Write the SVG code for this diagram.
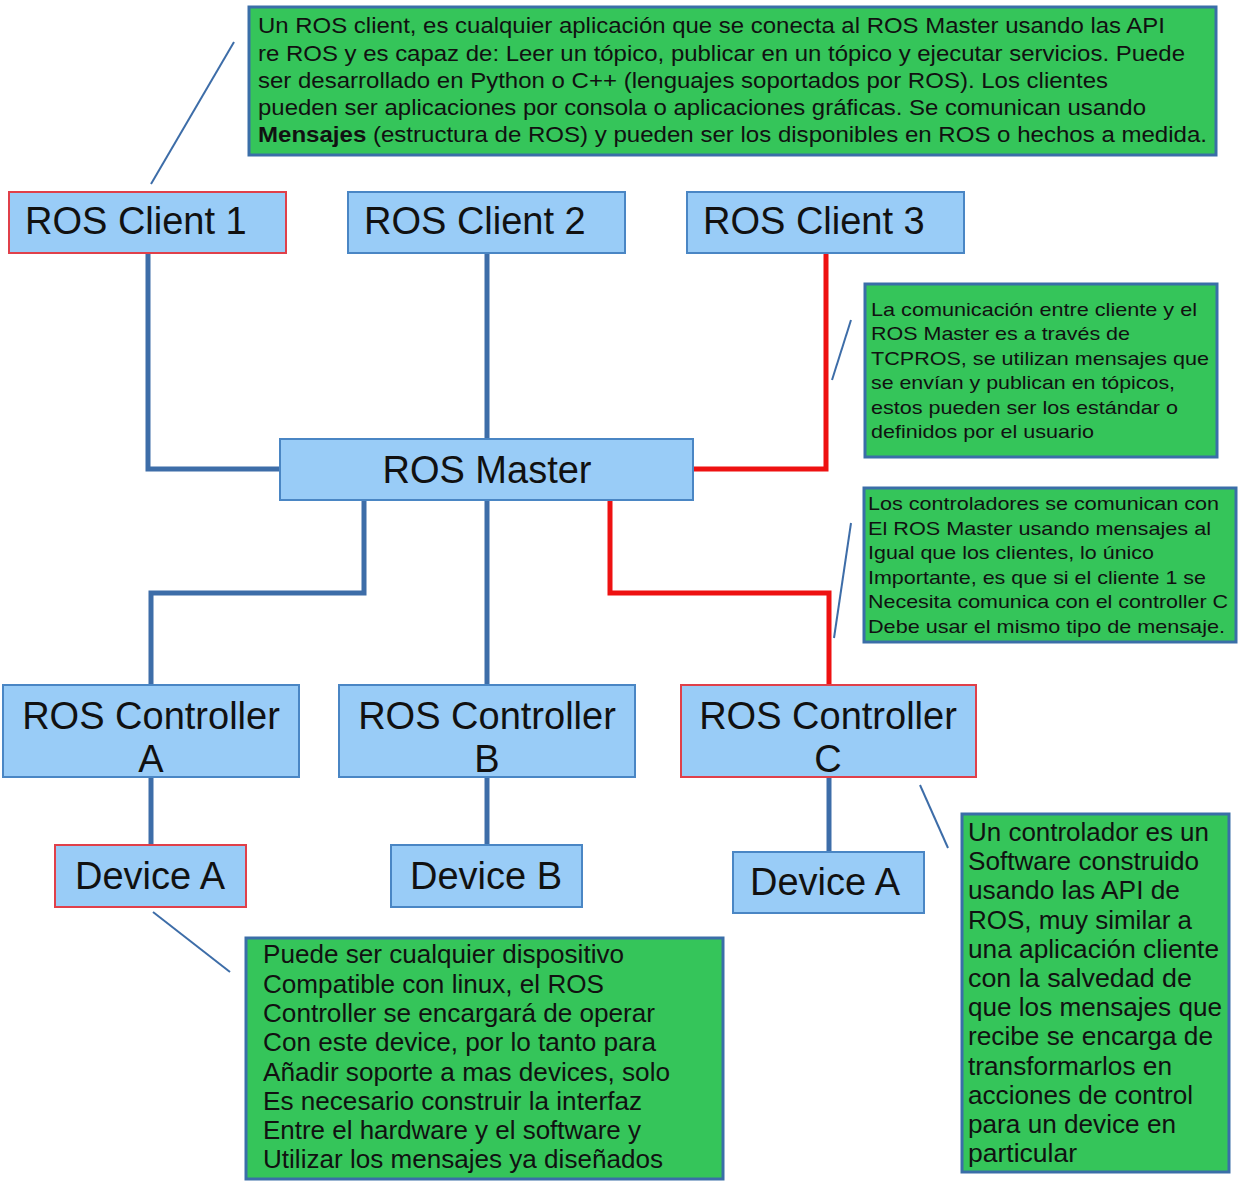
<svg xmlns="http://www.w3.org/2000/svg" width="1241" height="1184" viewBox="0 0 1241 1184">
<style>
.node{fill:#99ccf7;stroke:#4a86c4;stroke-width:2}
.red{stroke:#e0404a}
.note{fill:#35c55a;stroke:#3a6ea8;stroke-width:3}
.lbl{font-family:"Liberation Sans",Arial,sans-serif;font-size:38px;fill:#111}
.t1{font-family:"Liberation Sans",Arial,sans-serif;font-size:22px;fill:#111}
.t2{font-family:"Liberation Sans",Arial,sans-serif;font-size:19px;fill:#111}
.t3{font-family:"Liberation Sans",Arial,sans-serif;font-size:26px;fill:#111}
.cb{fill:none;stroke:#3d6da8;stroke-width:5}
.cr{fill:none;stroke:#ee1111;stroke-width:5}
.call{fill:none;stroke:#3d6da8;stroke-width:2}
</style>
<rect width="1241" height="1184" fill="#fff"/>
<g id="connectors">
<polyline class="cb" points="148,253 148,469 281,469"/>
<line class="cb" x1="487" y1="253" x2="487" y2="439"/>
<polyline class="cr" points="826,253 826,469 693,469"/>
<polyline class="cb" points="364,500 364,593 151,593 151,685"/>
<line class="cb" x1="487" y1="500" x2="487" y2="685"/>
<polyline class="cr" points="610,500 610,593 829,593 829,685"/>
<line class="cb" x1="151" y1="777" x2="151" y2="845"/>
<line class="cb" x1="487" y1="777" x2="487" y2="845"/>
<line class="cb" x1="829" y1="777" x2="829" y2="852"/>
<line class="call" x1="234" y1="42" x2="151" y2="184"/>
<line class="call" x1="851" y1="320" x2="832" y2="380"/>
<line class="call" x1="851" y1="523" x2="834" y2="638"/>
<line class="call" x1="920" y1="785" x2="948" y2="848"/>
<line class="call" x1="153" y1="912" x2="230" y2="972"/>
</g>
<g id="note-client">
<rect class="note" x="249" y="7" width="967" height="148"/>
<text class="t1" x="258" y="33" textLength="907" lengthAdjust="spacingAndGlyphs">Un ROS client, es cualquier aplicación que se conecta al ROS Master usando las API</text>
<text class="t1" x="258" y="61" textLength="927" lengthAdjust="spacingAndGlyphs">re ROS y es capaz de: Leer un tópico, publicar en un tópico y ejecutar servicios. Puede</text>
<text class="t1" x="258" y="88" textLength="850" lengthAdjust="spacingAndGlyphs">ser desarrollado en Python o C++ (lenguajes soportados por ROS). Los clientes</text>
<text class="t1" x="258" y="115" textLength="888" lengthAdjust="spacingAndGlyphs">pueden ser aplicaciones por consola o aplicaciones gráficas. Se comunican usando</text>
<text class="t1" x="258" y="142" textLength="949" lengthAdjust="spacingAndGlyphs"><tspan font-weight="bold">Mensajes</tspan> (estructura de ROS) y pueden ser los disponibles en ROS o hechos a medida.</text>
</g>
<g id="client1">
<rect class="node red" x="9" y="192" width="277" height="61"/>
<text class="lbl" x="25" y="234">ROS Client 1</text>
</g>
<g id="client2">
<rect class="node" x="348" y="192" width="277" height="61"/>
<text class="lbl" x="364" y="234">ROS Client 2</text>
</g>
<g id="client3">
<rect class="node" x="687" y="192" width="277" height="61"/>
<text class="lbl" x="703" y="234">ROS Client 3</text>
</g>
<g id="note-tcpros">
<rect class="note" x="865" y="284" width="352" height="173"/>
<text class="t2" x="871" y="316" textLength="326" lengthAdjust="spacingAndGlyphs">La comunicación entre cliente y el</text>
<text class="t2" x="871" y="340" textLength="259" lengthAdjust="spacingAndGlyphs">ROS Master es a través de</text>
<text class="t2" x="871" y="365" textLength="338" lengthAdjust="spacingAndGlyphs">TCPROS, se utilizan mensajes que</text>
<text class="t2" x="871" y="389" textLength="304" lengthAdjust="spacingAndGlyphs">se envían y publican en tópicos,</text>
<text class="t2" x="871" y="414" textLength="307" lengthAdjust="spacingAndGlyphs">estos pueden ser los estándar o</text>
<text class="t2" x="871" y="438" textLength="223" lengthAdjust="spacingAndGlyphs">definidos por el usuario</text>
</g>
<g id="master">
<rect class="node" x="280" y="439" width="413" height="61"/>
<text class="lbl" x="487" y="483" text-anchor="middle">ROS Master</text>
</g>
<g id="note-controllers">
<rect class="note" x="864" y="488" width="372" height="154"/>
<text class="t2" x="868" y="510" textLength="351" lengthAdjust="spacingAndGlyphs">Los controladores se comunican con</text>
<text class="t2" x="868" y="535" textLength="343" lengthAdjust="spacingAndGlyphs">El ROS Master usando mensajes al</text>
<text class="t2" x="868" y="559" textLength="286" lengthAdjust="spacingAndGlyphs">Igual que los clientes, lo único</text>
<text class="t2" x="868" y="584" textLength="338" lengthAdjust="spacingAndGlyphs">Importante, es que si el cliente 1 se</text>
<text class="t2" x="868" y="608" textLength="360" lengthAdjust="spacingAndGlyphs">Necesita comunica con el controller C</text>
<text class="t2" x="868" y="633" textLength="357" lengthAdjust="spacingAndGlyphs">Debe usar el mismo tipo de mensaje.</text>
</g>
<g id="controllerA">
<rect class="node" x="3" y="685" width="296" height="92"/>
<text class="lbl" x="151" y="729" text-anchor="middle">ROS Controller</text>
<text class="lbl" x="151" y="772" text-anchor="middle">A</text>
</g>
<g id="controllerB">
<rect class="node" x="339" y="685" width="296" height="92"/>
<text class="lbl" x="487" y="729" text-anchor="middle">ROS Controller</text>
<text class="lbl" x="487" y="772" text-anchor="middle">B</text>
</g>
<g id="controllerC">
<rect class="node red" x="681" y="685" width="295" height="92"/>
<text class="lbl" x="828" y="729" text-anchor="middle">ROS Controller</text>
<text class="lbl" x="828" y="772" text-anchor="middle">C</text>
</g>
<g id="deviceA1">
<rect class="node red" x="55" y="845" width="191" height="62"/>
<text class="lbl" x="150" y="889" text-anchor="middle">Device A</text>
</g>
<g id="deviceB">
<rect class="node" x="391" y="845" width="191" height="62"/>
<text class="lbl" x="486" y="889" text-anchor="middle">Device B</text>
</g>
<g id="deviceA2">
<rect class="node" x="733" y="852" width="191" height="61"/>
<text class="lbl" x="825" y="895" text-anchor="middle">Device A</text>
</g>
<g id="note-controller">
<rect class="note" x="962" y="814" width="267" height="358"/>
<text class="t3" x="968" y="841" textLength="241" lengthAdjust="spacingAndGlyphs">Un controlador es un</text>
<text class="t3" x="968" y="870" textLength="231" lengthAdjust="spacingAndGlyphs">Software construido</text>
<text class="t3" x="968" y="899" textLength="212" lengthAdjust="spacingAndGlyphs">usando las API de</text>
<text class="t3" x="968" y="929" textLength="224" lengthAdjust="spacingAndGlyphs">ROS, muy similar a</text>
<text class="t3" x="968" y="958" textLength="251" lengthAdjust="spacingAndGlyphs">una aplicación cliente</text>
<text class="t3" x="968" y="987" textLength="224" lengthAdjust="spacingAndGlyphs">con la salvedad de</text>
<text class="t3" x="968" y="1016" textLength="254" lengthAdjust="spacingAndGlyphs">que los mensajes que</text>
<text class="t3" x="968" y="1045" textLength="245" lengthAdjust="spacingAndGlyphs">recibe se encarga de</text>
<text class="t3" x="968" y="1075" textLength="204" lengthAdjust="spacingAndGlyphs">transformarlos en</text>
<text class="t3" x="968" y="1104" textLength="225" lengthAdjust="spacingAndGlyphs">acciones de control</text>
<text class="t3" x="968" y="1133" textLength="208" lengthAdjust="spacingAndGlyphs">para un device en</text>
<text class="t3" x="968" y="1162" textLength="109" lengthAdjust="spacingAndGlyphs">particular</text>
</g>
<g id="note-device">
<rect class="note" x="246" y="938" width="477" height="241"/>
<text class="t3" x="263" y="963" textLength="361" lengthAdjust="spacingAndGlyphs">Puede ser cualquier dispositivo</text>
<text class="t3" x="263" y="993" textLength="341" lengthAdjust="spacingAndGlyphs">Compatible con linux, el ROS</text>
<text class="t3" x="263" y="1022" textLength="392" lengthAdjust="spacingAndGlyphs">Controller se encargará de operar</text>
<text class="t3" x="263" y="1051" textLength="393" lengthAdjust="spacingAndGlyphs">Con este device, por lo tanto para</text>
<text class="t3" x="263" y="1081" textLength="407" lengthAdjust="spacingAndGlyphs">Añadir soporte a mas devices, solo</text>
<text class="t3" x="263" y="1110" textLength="379" lengthAdjust="spacingAndGlyphs">Es necesario construir la interfaz</text>
<text class="t3" x="263" y="1139" textLength="378" lengthAdjust="spacingAndGlyphs">Entre el hardware y el software y</text>
<text class="t3" x="263" y="1168" textLength="400" lengthAdjust="spacingAndGlyphs">Utilizar los mensajes ya diseñados</text>
</g>
</svg>
